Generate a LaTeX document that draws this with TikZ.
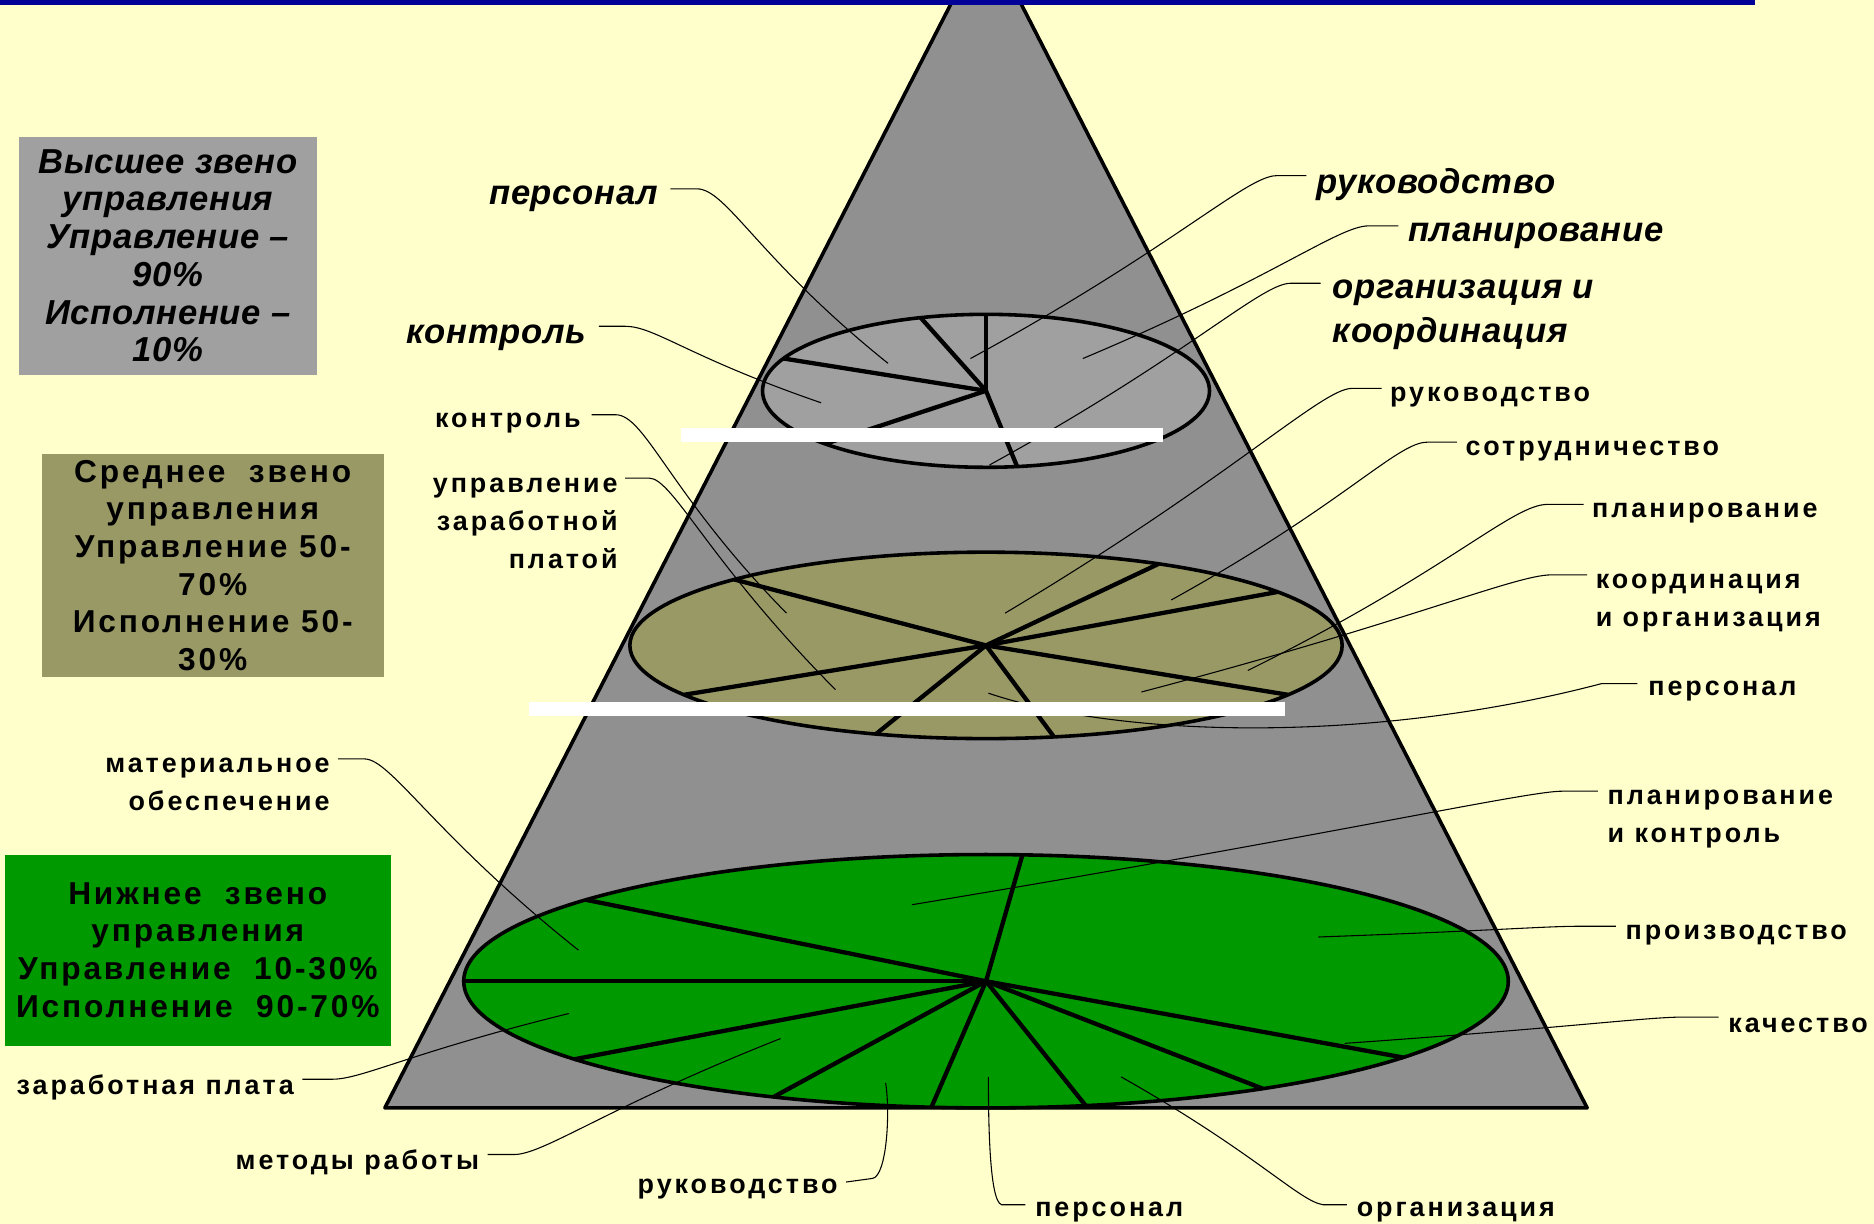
\documentclass[tikz,border=0pt]{standalone}
\usepackage{fontspec}
\setmainfont{Liberation Sans}
\newfontfamily\lsfont[LetterSpace=11]{Liberation Sans}
\newfontfamily\lsfontb[LetterSpace=9]{Liberation Sans}
\newfontfamily\itfont[LetterSpace=2]{Liberation Sans}
\usetikzlibrary{calc}
\definecolor{bg}{HTML}{FFFFCC}
\definecolor{barblue}{HTML}{000099}
\definecolor{pyr}{HTML}{909090}
\definecolor{topgray}{HTML}{A0A0A0}
\definecolor{khaki}{HTML}{999966}
\definecolor{grn}{HTML}{009900}
\begin{document}
\begin{tikzpicture}[x=1pt,y=-1pt,
  edge/.style={line width=3pt, line join=round},
  pie/.style={line width=3.6pt},
  lead/.style={line width=0.9pt},
  ti/.style={font=\itfont\fontsize{29}{37}\selectfont\bfseries\itshape, inner sep=0pt},
  lb/.style={font=\lsfont\fontsize{22.5}{31.5}\selectfont\bfseries, inner sep=0pt},
  boxa/.style={fill=topgray, minimum width=249pt, minimum height=199pt, inner sep=0pt, align=center,
    font=\itfont\fontsize{29}{31.6}\selectfont\bfseries\itshape},
  boxb/.style={fill=khaki, minimum width=286pt, minimum height=187pt, inner sep=0pt, align=center,
    font=\lsfontb\fontsize{26.5}{31.5}\selectfont\bfseries},
  boxc/.style={fill=grn, minimum width=323pt, minimum height=160pt, inner sep=0pt, align=center,
    font=\lsfontb\fontsize{26.5}{31.7}\selectfont\bfseries}
]
\useasboundingbox (0,0) rectangle (1568,1024);
\clip (0,0) rectangle (1568,1024);
\fill[bg] (0,0) rectangle (1568,1024);

% pyramid
\filldraw[fill=pyr, edge] (825,-54) -- (1328,927) -- (322,927) -- cycle;

% top disc
\coordinate (c1) at (825,327);
\filldraw[fill=topgray, edge] (c1) ellipse [x radius=187, y radius=64];
\foreach \a in {90,107,155,224,278}
  \draw[pie] (c1) -- ++(-\a:187 and 64);

% middle disc
\coordinate (c2) at (825,540);
\filldraw[fill=khaki, edge] (c2) ellipse [x radius=298, y radius=78];
\foreach \a in {35,61,135,212,252,281,328}
  \draw[pie] (c2) -- ++(-\a:298 and 78);

% bottom disc
\coordinate (c3) at (825,821);
\filldraw[fill=grn, edge] (c3) ellipse [x radius=437, y radius=106];
\foreach \a in {86,140,180,218,246,264,281,302,323}
  \draw[pie] (c3) -- ++(-\a:437 and 106);

% target points
\coordinate (t1) at (743,304);
\coordinate (t2) at (687,337);
\coordinate (t3) at (812,300);
\coordinate (t4) at (906,300);
\coordinate (t5) at (828,389);
\coordinate (u1) at (658,513);
\coordinate (u2) at (699,577);
\coordinate (u3) at (841,513);
\coordinate (u4) at (980,502);
\coordinate (u5) at (1044,561);
\coordinate (u6) at (955,579);
\coordinate (u7) at (827,580);
\coordinate (v1) at (484,795);
\coordinate (v2) at (476,848);
\coordinate (v3) at (653,869);
\coordinate (v4) at (741,906);
\coordinate (v5) at (827,901);
\coordinate (v6) at (938,901);
\coordinate (v7) at (763,757);
\coordinate (v8) at (1103,784);
\coordinate (v9) at (1125,873);

% labels, top level
\node[ti, anchor=east] (tp1) at (551,166) {персонал};
\node[ti, anchor=east] (tp2) at (491,283) {контроль};
\node[ti, anchor=west] (tp3) at (1101,154) {руководство};
\node[ti, anchor=west] (tp4) at (1178,197) {планирование};
\node[ti, anchor=north west, align=left] (tp5) at (1115,234) {организация и\\координация};

% labels, middle level
\node[lb, anchor=east] (m1) at (486,354) {контроль};
\node[lb, anchor=north east, align=right] (m2) at (517,400) {управление\\заработной\\платой};
\node[lb, anchor=west] (m3) at (1163,332) {руководство};
\node[lb, anchor=west] (m4) at (1226,377) {сотрудничество};
\node[lb, anchor=west] (m5) at (1332,429) {планирование};
\node[lb, anchor=north west, align=left] (m6) at (1335,480) {координация\\и организация};
\node[lb, anchor=west] (m7) at (1379,578) {персонал};

% labels, bottom level
\node[lb, anchor=north east, align=right] (b1) at (276,634) {материальное\\обеспечение};
\node[lb, anchor=east] (b2) at (246,910) {заработная плата};
\node[lb, anchor=east] (b3) at (401,973) {методы работы};
\node[lb, anchor=east] (b4) at (701,995) {руководство};
\node[lb, anchor=west] (b5) at (866,1014) {персонал};
\node[lb, anchor=west] (b6) at (1135,1014) {организация};
\node[lb, anchor=north west, align=left] (b7) at (1345,661) {планирование\\и контроль};
\node[lb, anchor=west] (b8) at (1360,782) {производство};
\node[lb, anchor=west] (b9) at (1446,858) {качество};

% leaders, top level
\draw[lead] ([xshift=10pt,yshift=8pt]tp1.east) coordinate (s) -- ++(22,0) .. controls +(25,0) and ($(t1)!0.6!(s)$) .. (t1);
\draw[lead] ([xshift=10pt,yshift=10pt]tp2.east) coordinate (s) -- ++(22,0) .. controls +(25,0) and ($(t2)!0.6!(s)$) .. (t2);
\draw[lead] ([xshift=-8pt,yshift=7pt]tp3.west) coordinate (s) -- ++(-25,0) .. controls +(-25,0) and ($(t3)!0.6!(s)$) .. (t3);
\draw[lead] ([xshift=-8pt,yshift=8pt]tp4.west) coordinate (s) -- ++(-25,0) .. controls +(-25,0) and ($(t4)!0.6!(s)$) .. (t4);
\draw[lead] ([xshift=-10pt,yshift=-3pt]tp5.north west) coordinate (s) -- ++(-25,0) .. controls +(-25,0) and ($(t5)!0.6!(s)$) .. (t5);

% leaders, middle level
\draw[lead] ([xshift=9pt,yshift=7pt]m1.east) coordinate (s) -- ++(20,0) .. controls +(25,0) and ($(u1)!0.6!(s)$) .. (u1);
\draw[lead] ([xshift=6pt,yshift=0pt]m2.north east) coordinate (s) -- ++(20,0) .. controls +(20,0) and ($(u2)!0.6!(s)$) .. (u2);
\draw[lead] ([xshift=-7pt,yshift=7pt]m3.west) coordinate (s) -- ++(-25,0) .. controls +(-25,0) and ($(u3)!0.6!(s)$) .. (u3);
\draw[lead] ([xshift=-7pt,yshift=7pt]m4.west) coordinate (s) -- ++(-25,0) .. controls +(-25,0) and ($(u4)!0.6!(s)$) .. (u4);
\draw[lead] ([xshift=-7pt,yshift=7pt]m5.west) coordinate (s) -- ++(-30,0) .. controls +(-30,0) and ($(u5)!0.6!(s)$) .. (u5);
\draw[lead] ([xshift=-7pt,yshift=-1pt]m6.north west) coordinate (s) -- ++(-30,0) .. controls +(-30,0) and ($(u6)!0.6!(s)$) .. (u6);
\draw[lead] ([xshift=-9pt,yshift=6pt]m7.west) -- ++(-30,0) .. controls (1150,622) and (940,618) .. (u7);

% leaders, bottom level
\draw[lead] ([xshift=7pt,yshift=-1pt]b1.north east) coordinate (s) -- ++(22,0) .. controls +(22,0) and ($(v1)!0.6!(s)$) .. (v1);
\draw[lead] ([xshift=7pt,yshift=7pt]b2.east) coordinate (s) -- ++(25,0) .. controls +(25,0) and ($(v2)!0.6!(s)$) .. (v2);
\draw[lead] ([xshift=7pt,yshift=7pt]b3.east) coordinate (s) -- ++(22,0) .. controls +(25,0) and ($(v3)!0.6!(s)$) .. (v3);
\draw[lead] ([xshift=7pt,yshift=6pt]b4.east) -- ++(22,-3) .. controls +(12,-2) and +(4,25) .. (v4);
\draw[lead] ([xshift=-8pt,yshift=6pt]b5.west) -- ++(-20,0) .. controls +(-10,-3) and +(0,40) .. (v5);
\draw[lead] ([xshift=-8pt,yshift=6pt]b6.west) coordinate (s) -- ++(-20,0) .. controls +(-20,-3) and ($(v6)!0.6!(s)$) .. (v6);
\draw[lead] ([xshift=-8pt,yshift=-1pt]b7.north west) coordinate (s) -- ++(-30,0) .. controls +(-30,0) and ($(v7)!0.6!(s)$) .. (v7);
\draw[lead] ([xshift=-8pt,yshift=7pt]b8.west) coordinate (s) -- ++(-30,0) .. controls +(-30,0) and ($(v8)!0.6!(s)$) .. (v8);
\draw[lead] ([xshift=-8pt,yshift=7pt]b9.west) coordinate (s) -- ++(-30,0) .. controls +(-30,0) and ($(v9)!0.6!(s)$) .. (v9);

% white bars
\fill[white] (570,358) rectangle (973,370);
\fill[white] (443,587) rectangle (1075,599);

% top blue bar
\fill[barblue] (0,0) rectangle (1468,4.5);

% level boxes
\node[boxa] (hb) at (140.5,214) {Высшее звено\\управления\\Управление –\\90\%\\Исполнение –\\10\%};
\node[boxb] (mb) at (178,473) {Среднее\ \ звено\\управления\\Управление 50-\\70\%\\Исполнение 50-\\30\%};
\node[boxc] (lbx) at (165.5,795) {Нижнее\ \ звено\\управления\\Управление\ \ 10-30\%\\Исполнение\ \ 90-70\%};
\end{tikzpicture}
\end{document}
